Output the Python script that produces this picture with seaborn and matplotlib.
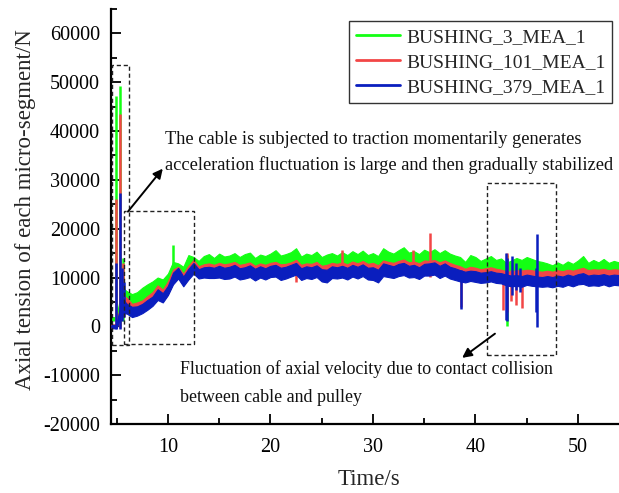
import numpy as np
import pandas as pd
import matplotlib
matplotlib.use("Agg")
import matplotlib.pyplot as plt
import seaborn as sns
from matplotlib.patches import Rectangle
from matplotlib.ticker import MultipleLocator

sns.set_theme(style="ticks")
plt.rcParams["font.family"] = ["Liberation Serif", "DejaVu Serif"]
plt.rcParams["axes.unicode_minus"] = False

# ---------------- data (values in units of 1000 N) ----------------
series_names = ["BUSHING_3_MEA_1", "BUSHING_101_MEA_1", "BUSHING_379_MEA_1"]
series_colors = ["#14FF14", "#F24646", "#0A1EBE"]

time_s = np.concatenate([[4.5, 5.0], np.arange(5.5, 54.01, 0.5)])

green_hi = [1.9, 1.9, 8.0, 7.2, 6.6, 7.0, 7.9, 8.6, 9.2, 10.0, 9.6, 10.8,
            13.2, 12.9, 12.2, 14.6, 14.2, 13.4, 14.4, 14.8, 14.0, 14.9, 14.3, 14.5,
            15.0, 14.2, 14.8, 15.1, 14.0, 14.7, 14.4, 14.9, 15.6, 14.5, 14.8, 15.2,
            16.0, 14.3, 14.9, 14.6, 15.3, 14.2, 14.7, 15.0, 14.5, 15.2, 14.6, 15.4,
            14.8, 15.5, 14.6, 15.0, 14.4, 16.0, 15.3, 14.9, 15.6, 16.2, 15.1, 15.4,
            14.8, 15.7, 15.2, 15.8, 15.0, 15.6, 14.9, 14.5, 14.2, 13.2, 14.6, 14.2,
            13.4, 13.9, 14.4, 13.6, 13.9, 13.0, 13.5, 14.0, 13.6, 14.2, 13.8, 13.4,
            13.2, 12.9, 12.5, 13.1, 12.6, 13.3, 12.8, 13.5, 14.4, 13.0, 13.6, 13.1,
            13.8, 13.0, 13.4, 13.1]
green_lo = [1.2, 1.2, 4.0, 4.0, 3.6, 3.8, 4.5, 5.0, 5.8, 6.8, 6.4, 7.5,
            9.5, 10.0, 9.0, 10.5, 11.0, 10.5, 10.8, 11.0, 10.8, 11.0, 10.8, 11.0,
            11.2, 10.7, 11.0, 11.2, 10.6, 11.0, 10.8, 11.1, 11.4, 10.9, 11.0, 11.3,
            11.6, 10.8, 11.1, 10.9, 11.3, 10.6, 10.8, 11.1, 10.9, 11.2, 10.9, 11.4,
            11.0, 11.4, 10.9, 11.1, 10.6, 11.6, 11.3, 11.1, 11.5, 11.8, 11.2, 11.4,
            11.0, 11.5, 11.3, 11.6, 11.2, 11.5, 11.0, 10.8, 10.6, 10.0, 10.5, 10.4,
            10.1, 10.3, 10.5, 10.2, 10.2, 9.6, 9.8, 10.0, 9.9, 10.1, 10.0, 9.8,
            9.7, 9.9, 9.7, 10.0, 9.8, 10.1, 9.9, 10.2, 10.5, 10.0, 10.2, 10.0,
            10.3, 10.0, 10.1, 10.0]
red_hi = [0.4, 0.4, 6.5, 5.8, 4.6, 4.9, 5.3, 6.2, 7.0, 8.4, 7.5, 9.2,
          11.6, 12.2, 10.8, 12.4, 13.6, 12.3, 12.7, 12.9, 12.6, 13.0, 12.7, 12.9,
          13.2, 12.6, 12.8, 13.1, 12.4, 12.9, 12.6, 13.0, 13.2, 12.7, 12.8, 13.1,
          13.6, 12.6, 12.9, 12.8, 13.2, 12.4, 12.6, 13.0, 12.8, 13.1, 12.7, 13.3,
          12.9, 13.4, 12.8, 13.0, 12.5, 13.5, 13.2, 13.0, 13.4, 13.7, 13.1, 13.3,
          12.9, 13.5, 13.4, 13.6, 13.1, 13.5, 13.0, 12.6, 12.3, 11.8, 12.2, 12.0,
          11.7, 11.9, 12.1, 11.8, 11.6, 11.2, 11.3, 11.5, 11.4, 11.6, 11.5, 11.3,
          11.2, 11.4, 11.2, 11.5, 11.3, 11.6, 11.4, 11.7, 12.0, 11.5, 11.7, 11.6,
          11.8, 11.5, 11.7, 11.6]
red_lo = [-0.3, -0.3, 3.0, 2.8, 2.4, 2.6, 3.0, 3.7, 4.5, 5.6, 5.2, 6.6,
          8.9, 10.0, 8.5, 10.0, 11.2, 10.2, 10.4, 10.3, 10.3, 10.4, 10.2, 10.3,
          10.6, 10.1, 10.3, 10.5, 9.9, 10.4, 10.1, 10.5, 10.6, 10.1, 10.3, 10.6,
          11.0, 10.0, 10.4, 10.2, 10.6, 9.7, 9.5, 10.3, 10.2, 10.5, 10.1, 10.7,
          10.3, 10.7, 10.1, 10.2, 9.6, 10.8, 10.5, 10.3, 10.7, 11.0, 10.4, 10.6,
          10.2, 10.8, 10.7, 11.0, 10.4, 10.8, 10.3, 10.0, 9.8, 9.5, 9.8, 9.6,
          9.4, 9.5, 9.7, 9.4, 9.0, 8.8, 8.6, 8.8, 8.7, 9.0, 8.8, 8.7,
          8.6, 8.8, 8.6, 8.9, 8.7, 9.0, 8.8, 9.1, 9.3, 8.9, 9.0, 8.9,
          9.1, 8.8, 9.0, 8.9]
blue_hi = [0.3, 0.3, 5.8, 4.6, 4.0, 4.1, 4.6, 5.4, 6.1, 7.6, 6.8, 8.3,
           11.0, 12.0, 10.2, 11.8, 13.0, 11.7, 12.1, 12.2, 12.0, 12.4, 12.0, 12.2,
           12.6, 11.9, 12.1, 12.5, 11.8, 12.3, 11.9, 12.4, 12.6, 12.0, 12.2, 12.6,
           13.0, 11.9, 12.3, 12.1, 12.5, 11.7, 11.6, 12.3, 12.1, 12.4, 12.0, 12.6,
           12.2, 12.7, 12.0, 12.1, 11.6, 12.9, 12.6, 12.3, 12.8, 13.0, 12.4, 12.6,
           12.1, 12.8, 12.9, 13.1, 12.4, 12.9, 12.2, 11.9, 11.5, 11.2, 11.4, 11.3,
           11.0, 11.1, 11.3, 11.0, 10.9, 10.6, 10.4, 10.5, 10.3, 10.6, 10.4, 10.2,
           10.1, 10.3, 10.1, 10.4, 10.2, 10.6, 10.3, 10.7, 10.9, 10.4, 10.6, 10.5,
           10.7, 10.4, 10.6, 10.5]
blue_lo = [-0.4, -0.4, 2.8, 2.6, 1.9, 2.2, 2.7, 3.4, 4.2, 5.4, 4.9, 6.4,
           8.6, 9.8, 8.2, 9.6, 10.8, 9.8, 10.0, 9.9, 9.9, 10.0, 9.7, 9.8,
           10.2, 9.6, 9.8, 10.1, 9.4, 10.0, 9.6, 10.1, 10.2, 9.5, 9.8, 10.2,
           10.6, 9.5, 9.9, 9.7, 10.1, 9.2, 9.0, 9.9, 9.8, 10.0, 9.6, 10.2,
           9.8, 10.3, 9.6, 9.5, 9.0, 10.3, 10.1, 9.9, 10.3, 10.5, 10.0, 10.1,
           9.7, 10.4, 10.4, 10.6, 9.9, 10.4, 9.8, 9.5, 9.2, 9.0, 9.3, 9.1,
           8.9, 9.0, 9.2, 8.9, 8.8, 8.4, 8.2, 8.3, 8.1, 8.5, 8.3, 8.2,
           8.1, 8.2, 8.0, 8.3, 8.1, 8.5, 8.2, 8.6, 8.7, 8.3, 8.4, 8.3,
           8.6, 8.2, 8.5, 8.4]

# narrow spikes: time, lower end, upper end (1000 N)
green_spike_t = [4.93, 5.36, 5.65, 10.5, 43.05]
green_spike_lo = [1.5, 0.0, 1.0, 12.0, 0.1]
green_spike_hi = [47.2, 49.2, 14.0, 16.7, 14.6]
red_spike_t = [4.95, 5.36, 5.6, 22.5, 27.0, 33.9, 35.6, 38.6, 42.7, 43.1, 43.5, 44.0, 44.5]
red_spike_lo = [-0.3, -0.3, 2.0, 9.1, 11.0, 11.0, 10.1, 4.0, 3.4, 3.0, 5.1, 4.4, 3.8]
red_spike_hi = [26.0, 43.5, 13.0, 13.5, 15.7, 15.7, 19.1, 12.0, 11.5, 15.0, 11.5, 11.5, 11.5]
blue_spike_t = [4.9, 5.3, 5.5, 5.7, 38.6, 42.95, 43.1, 43.6, 44.0, 44.3, 45.9, 46.05]
blue_spike_lo = [-0.5, -0.5, 1.0, 2.0, 3.6, 1.3, 1.0, 6.5, 7.5, 7.0, 3.0, -0.1]
blue_spike_hi = [13.0, 27.3, 12.0, 9.0, 11.5, 15.0, 14.0, 14.5, 13.0, 12.0, 12.0, 19.0]

x_ticks = [10, 20, 30, 40, 50]
y_ticks = [-20000, -10000, 0, 10000, 20000, 30000, 40000, 50000, 60000]

text_top = ["The cable is subjected to traction momentarily generates",
            "acceleration fluctuation is large and then gradually stabilized"]
text_bottom = ["Fluctuation of axial velocity due to contact collision",
               "between cable and pulley"]

# ---------------- figure ----------------
fig = plt.figure(figsize=(6.19, 4.93), dpi=100)
ax = fig.add_axes([111 / 619, 69 / 493, 508 / 619, 415 / 493])

bands = [(green_hi, green_lo), (red_hi, red_lo), (blue_hi, blue_lo)]
spikes = [(green_spike_t, green_spike_lo, green_spike_hi),
          (red_spike_t, red_spike_lo, red_spike_hi),
          (blue_spike_t, blue_spike_lo, blue_spike_hi)]

for i, (name, col) in enumerate(zip(series_names, series_colors)):
    hi, lo = bands[i]
    df = pd.DataFrame({
        "t": np.concatenate([time_s, time_s]),
        "v": np.concatenate([np.array(hi), np.array(lo)]) * 1000.0,
    })
    z = 2 + i
    sns.lineplot(data=df, x="t", y="v", ax=ax, estimator="mean",
                 errorbar=("pi", 100), color=col, linewidth=1.0,
                 label=name, zorder=z,
                 err_kws={"alpha": 1.0, "linewidth": 0.8, "edgecolor": col,
                          "zorder": z})
    st, slo, shi = spikes[i]
    ax.vlines(st, np.array(slo) * 1000.0, np.array(shi) * 1000.0,
              colors=col, linewidth=1.8, zorder=z)

# dashed boxes
box_kw = dict(fill=False, edgecolor="#222222", linestyle=(0, (3, 2)),
              linewidth=1.0, zorder=6)
ax.add_patch(Rectangle((4.54, -3800), 1.66, 57400, **box_kw))
ax.add_patch(Rectangle((5.75, -3600), 6.8, 27300, **box_kw))
ax.add_patch(Rectangle((41.1, -5800), 6.8, 35200, **box_kw))

# arrows
arw = dict(arrowstyle="-|>", color="black", lw=1.4, mutation_scale=14,
           shrinkA=0, shrinkB=0)
ax.annotate("", xy=(9.5, 32300), xytext=(6.1, 23500), arrowprops=arw, zorder=7)
ax.annotate("", xy=(38.7, -6450), xytext=(41.9, -1500), arrowprops=arw, zorder=7)

# annotation texts
ax.text(9.7, 38300, text_top[0], fontsize=13.2, va="center", ha="left",
        color="#111111", zorder=7)
ax.text(9.7, 33100, text_top[1], fontsize=13.2, va="center", ha="left",
        color="#111111", zorder=7)
ax.text(11.2, -8700, text_bottom[0], fontsize=12.9, va="center", ha="left",
        color="#111111", zorder=7)
ax.text(11.2, -14600, text_bottom[1], fontsize=12.9, va="center", ha="left",
        color="#111111", zorder=7)

# axes styling
ax.set_xlim(4.45, 54.0)
ax.set_ylim(-20000, 65000)
ax.set_xticks(x_ticks)
ax.set_yticks(y_ticks)
ax.xaxis.set_minor_locator(MultipleLocator(5))
ax.yaxis.set_minor_locator(MultipleLocator(5000))
ax.tick_params(which="both", direction="in", width=1.3, colors="black",
               labelsize=14.5)
ax.tick_params(which="major", length=7)
ax.tick_params(which="minor", length=4)
ax.tick_params(axis="x", pad=10)
ax.tick_params(axis="y", pad=8)
for s in ["top", "right"]:
    ax.spines[s].set_visible(False)
for s in ["left", "bottom"]:
    ax.spines[s].set_linewidth(1.6)
    ax.spines[s].set_color("black")

ax.set_xlabel("Time/s", fontsize=16.5)
ax.set_ylabel("Axial tension of each micro-segment/N", fontsize=16.5)
ax.xaxis.set_label_coords(0.508, -0.108)
ax.yaxis.set_label_coords(-0.147, 0.516)

handles, labels = ax.get_legend_handles_labels()
leg = ax.legend(handles[:3], labels[:3], loc="upper right",
                bbox_to_anchor=(0.987, 0.97), borderaxespad=0,
                fontsize=14, frameon=True, fancybox=False,
                edgecolor="#333333", framealpha=1, handlelength=2.3,
                labelspacing=0.38, handletextpad=0.3, borderpad=0.35)
leg.get_frame().set_linewidth(1.0)
for h in leg.get_lines():
    h.set_linewidth(2.0)
leg.set_zorder(10)

fig.savefig("out.png", dpi=100)
